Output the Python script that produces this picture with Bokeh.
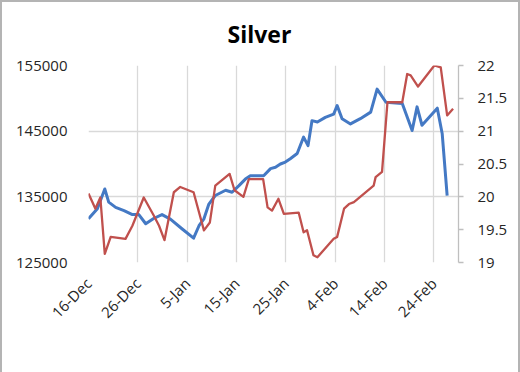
import math
from bokeh.plotting import figure
from bokeh.models import (Range1d, LinearAxis, FixedTicker, NumeralTickFormatter,
                          Legend, LegendItem)
from bokeh.embed import file_html
from bokeh.resources import INLINE

# x positions are days since 16-Dec-2015
oi_days = [0, 1.8, 3.3, 4.1, 5.5, 7.2, 8.9, 10.2, 11.6, 13.2, 14.9, 16.6, 19.0, 21.3,
           22.4, 23.4, 24.4, 25.7, 27.8, 29.1, 30.5, 31.8, 32.8, 35.5, 36.9, 37.9,
           38.9, 39.9, 40.9, 42.3, 43.6, 44.5, 45.3, 46.4, 48.0, 49.7, 50.4, 51.4,
           53.1, 55.1, 57.2, 58.5, 60.3, 63.6, 65.6, 66.6, 67.6, 70.7, 71.7, 72.7]
oi_values = [131650, 133200, 136200, 134200, 133400, 132900, 132300, 132300, 130900,
             131700, 132300, 131600, 130100, 128700, 130600, 131650, 133900, 135200,
             136000, 135700, 136700, 137700, 138200, 138200, 139300, 139500, 140000,
             140300, 140800, 141600, 144100, 142800, 146600, 146400, 147100, 147600,
             148900, 146900, 146100, 146900, 147900, 151400, 149400, 149200, 145100,
             148700, 145900, 148500, 144600, 135200]

price_days = [0, 1.4, 2.4, 3.3, 4.5, 7.5, 8.9, 11.2, 13.2, 14.3, 15.4, 17.3, 18.6, 21.3,
              23.4, 24.6, 25.7, 28.6, 29.6, 31.4, 32.5, 35.4, 36.3, 37.2, 38.5, 39.6,
              42.6, 43.6, 44.3, 45.6, 46.4, 49.7, 50.4, 51.8, 52.8, 53.8, 57.8, 58.2,
              59.5, 60.6, 63.6, 64.6, 65.3, 66.8, 70.1, 71.4, 72.7, 73.9]
price_values = [20.05, 19.82, 19.99, 19.13, 19.39, 19.36, 19.56, 19.99, 19.72, 19.56,
                19.34, 20.07, 20.15, 20.07, 19.49, 19.61, 20.17, 20.35, 20.10, 20.00,
                20.27, 20.27, 19.84, 19.79, 19.97, 19.74, 19.76, 19.46, 19.49, 19.11,
                19.08, 19.36, 19.39, 19.82, 19.89, 19.92, 20.17, 20.30, 20.38, 21.44,
                21.44, 21.87, 21.85, 21.68, 22.00, 21.97, 21.24, 21.34]

x_tick_days = [0, 10, 20, 30, 40, 50, 60, 70]
x_tick_labels = ["16-Dec", "26-Dec", "5-Jan", "15-Jan", "25-Jan", "4-Feb", "14-Feb", "24-Feb"]
oi_ticks = [125000, 135000, 145000, 155000]
price_ticks = [19, 19.5, 20, 20.5, 21, 21.5, 22]

FONT = "Open Sans"
TXT = "#262626"
GRID = "#d9d9d9"
BLUE = "#4479C4"
RED = "#C0504D"

p = figure(frame_width=370, frame_height=197, x_range=Range1d(0, 75),
           y_range=Range1d(125000, 155000), output_backend="svg",
           toolbar_location=None, title="Silver",
           min_border_left=86, min_border_right=60, min_border_top=63,
           min_border_bottom=108,
           styles={"border": "2px solid #b4b4b4"})
p.extra_y_ranges = {"price": Range1d(19, 22)}
p.outline_line_color = None
p.background_fill_color = "white"
p.border_fill_color = "white"

p.title.text_font = FONT
p.title.text_font_size = "23px"
p.title.text_font_style = "bold"
p.title.text_color = "#000000"
p.title.align = "left"
p.title.offset = 139
p.title.vertical_align = "top"
p.title.standoff = 28

# left axis
ya = p.yaxis[0]
ya.ticker = FixedTicker(ticks=oi_ticks)
ya.formatter = NumeralTickFormatter(format="0")
ya.axis_line_color = None
ya.major_tick_line_color = None
ya.minor_tick_line_color = None
ya.major_tick_out = 0
ya.major_label_standoff = 21
ya.major_label_text_font = FONT
ya.major_label_text_font_size = "15px"
ya.major_label_text_color = TXT

# bottom axis
xa = p.xaxis[0]
xa.ticker = FixedTicker(ticks=x_tick_days)
xa.major_label_overrides = {d: lbl for d, lbl in zip(x_tick_days, x_tick_labels)}
xa.major_label_orientation = math.pi / 4
xa.axis_line_color = None
xa.major_tick_line_color = None
xa.minor_tick_line_color = None
xa.major_tick_out = 0
xa.major_label_standoff = 18
xa.major_label_text_font = FONT
xa.major_label_text_font_size = "15px"
xa.major_label_text_color = TXT

# right axis
ra = LinearAxis(y_range_name="price", ticker=FixedTicker(ticks=price_ticks),
                formatter=NumeralTickFormatter(format="0.[0]"))
ra.axis_line_color = "#bfbfbf"
ra.axis_line_width = 1.3
ra.major_tick_line_color = "#bfbfbf"
ra.major_tick_line_width = 1.3
ra.minor_tick_line_color = None
ra.major_tick_in = 0
ra.major_tick_out = 5
ra.major_label_standoff = 14
ra.major_label_text_font = FONT
ra.major_label_text_font_size = "15px"
ra.major_label_text_color = TXT
p.add_layout(ra, "right")

p.xgrid.grid_line_color = GRID
p.xgrid.grid_line_width = 1.3
p.ygrid.grid_line_color = GRID
p.ygrid.grid_line_width = 1.3

r1 = p.line(oi_days, oi_values, line_color=BLUE, line_width=3, line_join="round")
r2 = p.line(price_days, price_values, y_range_name="price", line_color=RED,
            line_width=2.3, line_join="round")

legend = Legend(items=[LegendItem(label="Open Interest", renderers=[r1]),
                       LegendItem(label="Silver price (RHS)", renderers=[r2])],
                orientation="horizontal", location="top_left")
legend.label_text_font = FONT
legend.label_text_font_size = "15.5px"
legend.label_text_font_style = "bold"
legend.label_text_color = "#000000"
legend.glyph_width = 29
legend.glyph_height = 16
legend.label_height = 16
legend.label_standoff = 3
legend.spacing = 26
legend.padding = 0
legend.margin = 4
legend.border_line_color = None
legend.background_fill_alpha = 0
p.add_layout(legend, "below")

open("out.html", "w").write(file_html(p, INLINE))
